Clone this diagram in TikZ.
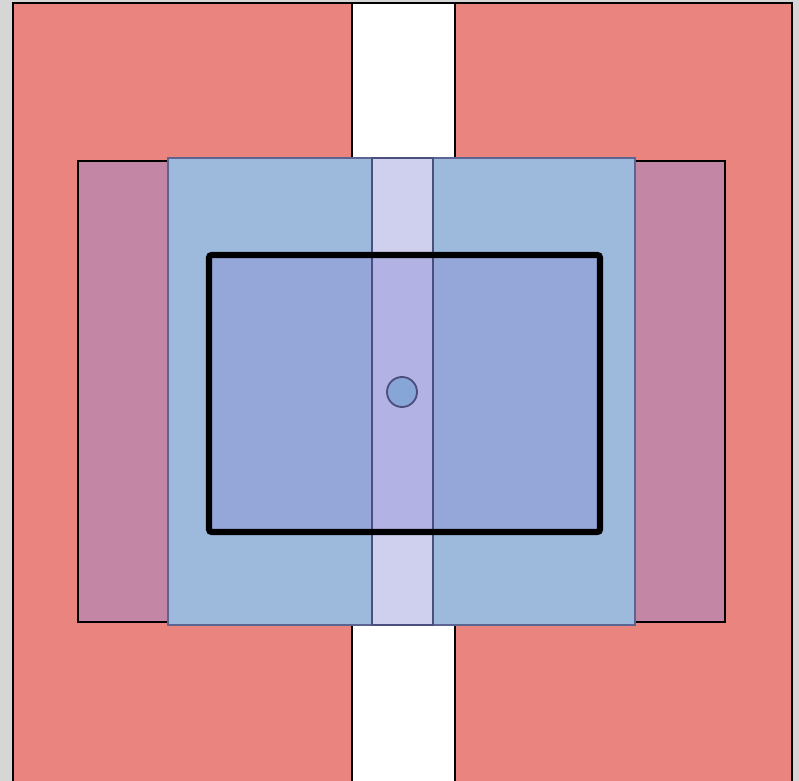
\documentclass[tikz,border=0pt]{standalone}
\usetikzlibrary{backgrounds}

\definecolor{sidered}{HTML}{E9847F}
\definecolor{wingpurple}{HTML}{C387A5}
\definecolor{panelblue}{HTML}{9DBADC}
\definecolor{stripblue}{HTML}{CFD0EE}
\definecolor{coreblue}{HTML}{95A6D9}
\definecolor{corestrip}{HTML}{B2B2E5}
\definecolor{dotblue}{HTML}{87A5D7}
\definecolor{edgeslate}{HTML}{4C4E7E}

\begin{document}
\begin{tikzpicture}[
    x=0.75pt, y=-0.75pt,
    thinline/.style={draw=black, line width=0.9pt},
    wall/.style={thinline, fill=sidered},
    gap/.style={thinline, fill=white},
    wing/.style={thinline, fill=wingpurple},
    panel/.style={draw=edgeslate!80!panelblue, line width=1.1pt, fill=panelblue},
    slot/.style={draw=edgeslate, line width=1.1pt, fill=stripblue},
    frame/.style={draw=black, line width=4.6pt, rounded corners=2pt},
]

% page margins
\useasboundingbox[fill={rgb,255:red,214;green,214;blue,214}] (0,0) rectangle (799,781);

% outer walls and the open gap between them
\draw[wall] (13,3) rectangle (792,782);
\draw[gap]  (352,3) rectangle (455,782);

% wings and central panel
\draw[wing]  (78,161) rectangle (725,622);
\draw[panel] (168,158) rectangle (635,625);
\draw[slot]  (372,158) rectangle (433,625);

% core area with its strip
\fill[coreblue]  (209,255) rectangle (600,532);
\fill[corestrip] (372,255) rectangle (433,532);
\draw[edgeslate, line width=1.1pt] (372,255) -- (372,532) (433,255) -- (433,532);
\draw[frame] (209,255) rectangle (600,532);

% centre marker
\draw[draw=edgeslate, line width=1.4pt, fill=dotblue] (402,392) circle (15);

\end{tikzpicture}
\end{document}
